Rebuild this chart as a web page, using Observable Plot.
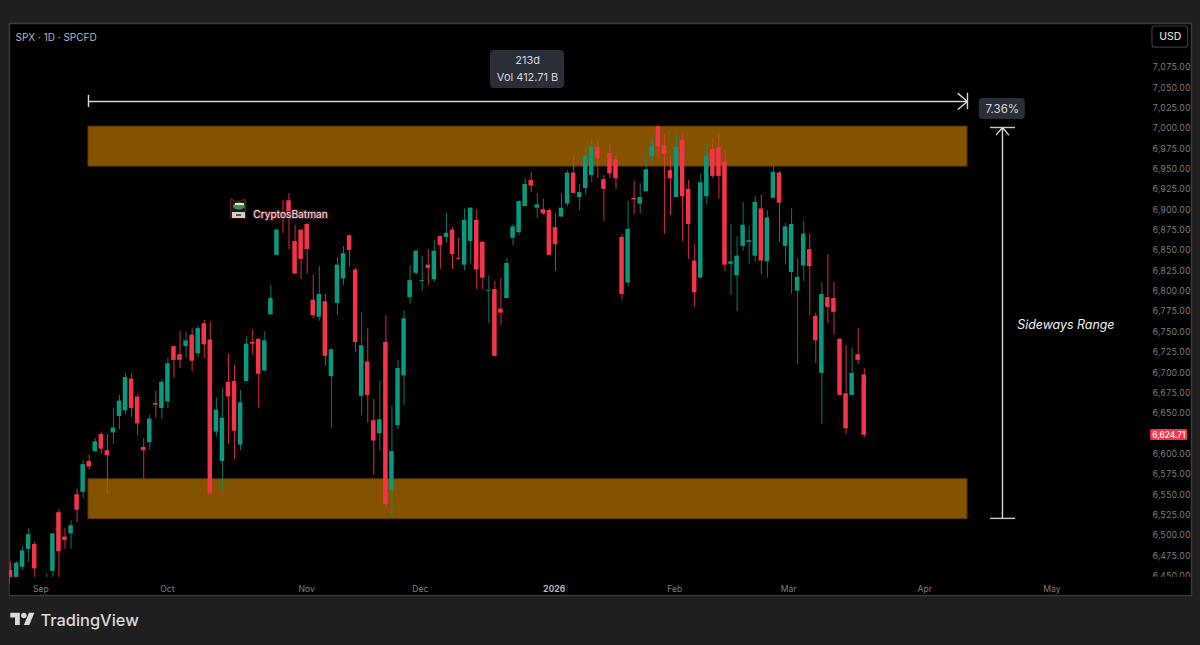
<!DOCTYPE html>
<html><head><meta charset="utf-8">
<script src="https://cdn.jsdelivr.net/npm/d3@7"></script>
<script src="https://cdn.jsdelivr.net/npm/@observablehq/plot@0.6"></script>
<style>html,body{margin:0;padding:0;background:#1f1f1f;overflow:hidden}#w{position:relative;width:1200px;height:645px}svg.over{position:absolute}</style>
</head><body><div id="w"></div>
<script>
const opens=[6456,6444,6460,6482,6488,6441,6431,6455,6527,6497,6501,6549,6552,6590,6602,6623,6603,6625,6645,6652,6691,6669,6607,6613,6661,6655,6663,6731,6721,6731,6745,6722,6759,6739,6626,6590,6687,6688,6610,6688,6736,6740,6701,6770,6843,6894,6910,6860,6874,6881,6788,6767,6786,6694,6784,6814,6867,6825,6670,6712,6640,6624,6736,6554,6634,6695,6791,6821,6811,6831,6813,6866,6865,6874,6839,6831,6860,6886,6859,6799,6801,6777,6790,6864,6871,6903,6935,6901,6899,6898,6877,6890,6906,6944,6914,6925,6941,6976,6936,6968,6960,6865,6809,6913,6906,6921,6964,7001,6977,6947,6914,6984,6924,6836,6815,6915,6973,6975,6957,6832,6818,6854,6859,6842,6900,6835,6913,6944,6854,6822,6799,6830,6850,6768,6698,6791,6790,6740,6673,6671,6721,6696];
const highs=[6466,6467,6486,6508,6491,6446,6452,6501,6531,6508,6517,6556,6591,6598,6618,6626,6623,6655,6671,6698,6698,6672,6618,6647,6676,6690,6717,6731,6750,6749,6753,6755,6763,6761,6668,6680,6722,6708,6677,6743,6751,6740,6749,6806,6875,6910,6919,6880,6874,6881,6819,6829,6795,6728,6840,6854,6868,6827,6773,6753,6666,6689,6769,6658,6714,6775,6830,6849,6842,6850,6861,6866,6895,6877,6864,6900,6901,6899,6860,6818,6811,6815,6839,6881,6910,6937,6945,6919,6912,6900,6894,6919,6947,6965,6930,6977,6985,6985,6941,6978,6966,6869,6909,6934,6931,6964,6987,7002,6991,6963,6991,6992,6935,6856,6943,6979,6986,6992,6972,6881,6866,6908,6878,6915,6917,6898,6952,6946,6882,6900,6839,6885,6869,6772,6810,6844,6810,6740,6732,6729,6753,6704];
const lows=[6431,6438,6456,6466,6447,6425,6425,6440,6438,6482,6482,6515,6544,6579,6601,6599,6550,6611,6629,6647,6644,6621,6568,6603,6643,6641,6655,6692,6704,6716,6700,6718,6716,6550,6620,6554,6611,6592,6603,6688,6720,6655,6700,6770,6843,6870,6850,6820,6813,6820,6765,6762,6707,6630,6769,6806,6829,6724,6646,6637,6573,6603,6533,6521,6629,6659,6783,6819,6799,6806,6810,6826,6858,6826,6837,6824,6832,6801,6801,6759,6719,6757,6790,6855,6867,6903,6920,6888,6892,6843,6823,6890,6903,6919,6898,6917,6932,6937,6885,6937,6924,6788,6804,6893,6894,6921,6958,6962,6869,6892,6914,6860,6838,6779,6815,6905,6937,6912,6823,6794,6774,6848,6832,6835,6819,6815,6913,6859,6831,6795,6709,6811,6769,6710,6635,6759,6745,6670,6623,6671,6709,6619];
const closes=[6438,6465,6480,6500,6458,6431,6444,6501,6479,6493,6511,6530,6586,6583,6614,6605,6597,6631,6664,6693,6655,6636,6603,6642,6659,6687,6710,6714,6714,6738,6713,6753,6733,6550,6653,6643,6669,6627,6662,6734,6734,6697,6738,6790,6874,6891,6888,6820,6838,6850,6769,6795,6719,6727,6831,6845,6849,6736,6732,6671,6615,6641,6537,6602,6704,6765,6812,6848,6812,6827,6848,6855,6870,6844,6838,6886,6901,6825,6815,6800,6719,6772,6833,6878,6909,6930,6928,6905,6894,6843,6856,6901,6944,6919,6920,6965,6976,6962,6924,6943,6937,6795,6875,6911,6914,6948,6977,6976,6967,6937,6975,6915,6881,6797,6932,6964,6940,6940,6831,6835,6842,6880,6861,6908,6836,6889,6945,6907,6878,6881,6816,6869,6829,6738,6795,6779,6773,6671,6630,6698,6714,6622];

const yTicks=d3.range(6450,7076,25).filter(v=>v!==6625);
const xTickPos=[5,25.9,48.9,67.7,109.7,128.5,151,172];
const xTickLabels=["Sep","Oct","Nov","Dec","Feb","Mar","Apr","May"];
const yearTickPos=[89.8], yearTickLabel="2026";
const zones=[{y1:6952,y2:7001},{y1:6519,y2:6568}];
const zoneStart=12.88, zoneEnd=158.05;
const rangeTopPrice=7000, rangeBottomPrice=6520, rangeIndex=163.83;
const spanPrice=7032;
const lastPrice="6,624.71", lastPriceLevel=6622;

const rows=opens.map((o,i)=>({i,o,h:highs[i],l:lows[i],c:closes[i]}));
const up=d=>d.c>=d.o, down=d=>d.c<d.o;
const GREEN="#089981", RED="#f7334a", FONT="Inter, sans-serif";
const halfBody=0.37;

const label=(x,y,text,o={})=>Plot.text([0],{x:()=>x,y:()=>y,text:()=>text,fontFamily:FONT,fill:"#d4d4d8",fontSize:11,...o});
const box=(x1,x2,y1,y2,o={})=>Plot.rect([0],{x1:()=>x1,x2:()=>x2,y1:()=>y1,y2:()=>y2,fill:"#2a2e39",rx:4,...o});
const hline=(x1,x2,y,o={})=>Plot.ruleY([y],{x1:()=>x1,x2:()=>x2,stroke:"#c9c9c9",strokeWidth:1.4,...o});
const vline=(x,y1,y2,o={})=>Plot.ruleX([x],{y1:()=>y1,y2:()=>y2,stroke:"#c9c9c9",strokeWidth:1.4,...o});
const labelOf=new Map(xTickPos.map((p,k)=>[p,xTickLabels[k]]));

const chart=Plot.plot({
  width:1200,height:645,
  marginLeft:9,marginRight:9,marginTop:23,marginBottom:50,
  style:{background:"#1f1f1f"},
  x:{type:"linear",domain:[-0.165,195.05],range:[9,1191]},
  y:{type:"linear",domain:[6425.3,7127.7],range:[595,23]},
  marks:[
    Plot.frame({fill:"#000",stroke:"#3b3b3b",strokeWidth:1.5}),
    Plot.rect(zones,{x1:()=>zoneStart,x2:()=>zoneEnd,y1:"y1",y2:"y2",fill:"#855300",stroke:"#5f3b00",strokeWidth:1}),
    Plot.ruleX(rows,{filter:up,x:"i",y1:"l",y2:"h",stroke:GREEN,strokeWidth:1,strokeOpacity:.8,clip:true}),
    Plot.ruleX(rows,{filter:down,x:"i",y1:"l",y2:"h",stroke:RED,strokeWidth:1,strokeOpacity:.85,clip:true}),
    Plot.rect(rows,{filter:up,x1:d=>d.i-halfBody,x2:d=>d.i+halfBody,y1:"o",y2:"c",fill:GREEN,clip:true}),
    Plot.rect(rows,{filter:down,x1:d=>d.i-halfBody,x2:d=>d.i+halfBody,y1:"o",y2:"c",fill:RED,clip:true}),
    Plot.axisY(yTicks,{anchor:"right",tickSize:0,dx:-10,dy:1,textAnchor:"end",label:null,tickFormat:d3.format(",.2f"),fill:"#7d7d7d",fontSize:8.6,fontFamily:FONT}),
    // strip under the price pane: cuts off candles and the lowest label
    Plot.rect([0],{x1:()=>-0.05,x2:()=>194.95,y1:()=>6426,y2:()=>6447.5,fill:"#000"}),
    Plot.axisX(xTickPos,{anchor:"bottom",tickSize:0,dy:-19,label:null,tickFormat:d=>labelOf.get(d),fill:"#7d7d7d",fontSize:8.6,fontFamily:FONT}),
    Plot.axisX(yearTickPos,{anchor:"bottom",tickSize:0,dy:-19,label:null,tickFormat:()=>yearTickLabel,fill:"#b5b5b5",fontSize:8.6,fontWeight:700,fontFamily:FONT}),
    // measured span
    Plot.arrow([0],{x1:()=>zoneStart,x2:()=>zoneEnd,y1:()=>spanPrice,y2:()=>spanPrice,stroke:"#d6d6d6",strokeWidth:1.4,headLength:13,headAngle:80}),
    vline(zoneStart,7024.5,7039.5,{stroke:"#d6d6d6"}),
    vline(zoneEnd,7022,7042,{stroke:"#d6d6d6"}),
    box(79.27,91.5,7047.9,7094.5),
    label(85.4,7082.5,"213d"),
    label(85.4,7061.5,"Vol 412.71 B"),
    box(160.0,167.6,7009.8,7035.6),
    label(163.8,7022.7,"7.36%",{fontSize:11.5}),
    // sideways range
    Plot.arrow([0],{x1:()=>rangeIndex,x2:()=>rangeIndex,y1:()=>rangeBottomPrice,y2:()=>rangeTopPrice,stroke:"#d6d6d6",strokeWidth:1.4,headLength:10,headAngle:80}),
    hline(161.85,165.98,rangeTopPrice),
    hline(161.85,165.98,rangeBottomPrice),
    label(174.3,6758,"Sideways Range",{fontSize:12.4,fontStyle:"italic",fill:"#f0f0f0"}),
    // last price tag
    box(188.3,194.4,6615.6,6629,{fill:"#f7334a",rx:1.5}),
    label(191.3,lastPriceLevel,lastPrice,{fill:"#fff",fontSize:8.3,fontWeight:500}),
    // header
    label(0.83,7110.5,"SPX · 1D · SPCFD",{textAnchor:"start",fontSize:10,fill:"#b5b5b5"}),
    box(188.6,194.5,7098,7124,{fill:"#000",stroke:"#3a3a3a",strokeWidth:1.2,rx:3}),
    label(191.55,7111,"USD",{fontSize:10.5,fontWeight:500,fill:"#d4d4d4"}),
    // author tag
    label(40.1,6893,"CryptosBatman",{textAnchor:"start",fontSize:10.2,fill:"#f4e9e9",stroke:"#5a1820",strokeWidth:2.5,strokeOpacity:.85}),
    // footer
    label(4.95,6394.6,"TradingView",{textAnchor:"start",fontSize:16.4,fontWeight:500,fill:"#d9d9d9"})
  ]
});
const w=document.getElementById("w");
w.appendChild(chart);
w.insertAdjacentHTML("beforeend",`
<svg class="over" style="left:10px;top:610px" width="25" height="19" viewBox="0 0 36 28"><path fill="#d9d9d9" d="M14 22H7V11H0V4h14v18zM28 22h-8l7.5-18h8L28 22z"/><circle cx="20" cy="8" r="4" fill="#d9d9d9"/></svg>
<svg class="over" style="left:226px;top:195px" width="24" height="26" viewBox="0 0 24 26">
<path d="M5 3l3 3h7l4-2 1 8-1 6 1 5H4l1-5-1-7z" fill="#1b1b1b" stroke="#6a1c22" stroke-width="1"/>
<ellipse cx="13" cy="11" rx="6" ry="3.6" fill="#4f8a46"/><rect x="9" y="8" width="9" height="2" fill="#e8e8e8"/>
<rect x="6" y="17" width="13" height="6" fill="#cfcfcf"/><rect x="10" y="19" width="5" height="2" fill="#6b5a20"/></svg>`);
</script></body></html>
